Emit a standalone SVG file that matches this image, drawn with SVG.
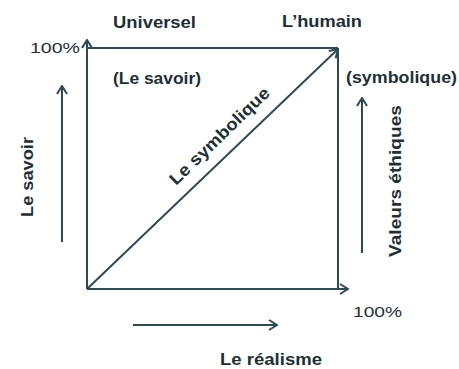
<svg xmlns="http://www.w3.org/2000/svg" width="459" height="369" viewBox="0 0 459 369">
<style>
.ln{stroke:#2e4a55;stroke-width:2;fill:none}
.t{font-family:"Liberation Sans",Arial,sans-serif;font-weight:bold;font-size:17px;fill:#1e2f36}
.n{font-family:"Liberation Sans",Arial,sans-serif;font-size:15px;fill:#1e2f36}
</style>
<defs>
<marker id="ah" viewBox="0 0 10 12" refX="9" refY="6" markerWidth="10" markerHeight="12" markerUnits="userSpaceOnUse" orient="auto">
<path d="M1,1 L9,6 L1,11" fill="none" stroke="#2e4a55" stroke-width="2"/>
</marker>
</defs>
<rect width="459" height="369" fill="#fff"/>
<g id="connectors">
<line class="ln" x1="87" y1="289" x2="87" y2="40" marker-end="url(#ah)"/>
<line class="ln" x1="87" y1="48" x2="338" y2="48"/>
<line class="ln" x1="338" y1="48" x2="338" y2="289"/>
<line class="ln" x1="87" y1="289" x2="348" y2="289" marker-end="url(#ah)"/>
<line class="ln" x1="87" y1="289" x2="338" y2="49" marker-end="url(#ah)"/>
<line class="ln" x1="62" y1="242" x2="62" y2="86" marker-end="url(#ah)"/>
<line class="ln" x1="362" y1="253" x2="362" y2="98" marker-end="url(#ah)"/>
<line class="ln" x1="133" y1="325" x2="277" y2="325" marker-end="url(#ah)"/>
</g>
<g id="universel"><text class="t" x="113" y="28" textLength="83" lengthAdjust="spacingAndGlyphs">Universel</text></g>
<g id="humain"><text class="t" x="282" y="27" textLength="80" lengthAdjust="spacingAndGlyphs">L’humain</text></g>
<g id="pct-top"><text class="n" x="30" y="53" textLength="50" lengthAdjust="spacingAndGlyphs">100%</text></g>
<g id="lesavoir-paren"><text class="t" x="113" y="84" textLength="88" lengthAdjust="spacingAndGlyphs">(Le savoir)</text></g>
<g id="symbolique-paren"><text class="t" x="346" y="83" textLength="111" lengthAdjust="spacingAndGlyphs">(symbolique)</text></g>
<g id="pct-bottom"><text class="n" x="353" y="317" textLength="49" lengthAdjust="spacingAndGlyphs">100%</text></g>
<g id="realisme"><text class="t" x="220" y="365" textLength="102" lengthAdjust="spacingAndGlyphs">Le réalisme</text></g>
<g id="lesavoir-axis"><text class="t" transform="translate(33,217) rotate(-90)" textLength="80" lengthAdjust="spacingAndGlyphs">Le savoir</text></g>
<g id="valeurs"><text class="t" transform="translate(401,257) rotate(-90)" textLength="152" lengthAdjust="spacingAndGlyphs">Valeurs éthiques</text></g>
<g id="lesymbolique"><text class="t" transform="translate(176,186) rotate(-44)" textLength="132" lengthAdjust="spacingAndGlyphs">Le symbolique</text></g>
</svg>
